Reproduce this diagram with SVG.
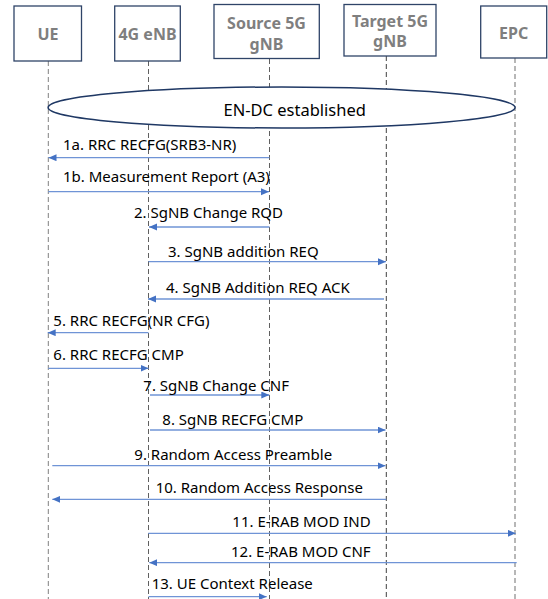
<svg xmlns="http://www.w3.org/2000/svg" width="548" height="599" viewBox="0 0 548 599">
<style>
.box{fill:#fff;stroke:#2f4468;stroke-width:1.3}
.bt{font-family:"Noto Sans","Liberation Sans",sans-serif;font-weight:bold;font-size:16px;fill:#7f7f7f;text-anchor:middle}
.life{fill:none;stroke-dasharray:5,3}
.msg{stroke:#6f94d6;stroke-width:1.3;fill:none;marker-end:url(#ah)}
.lbl{font-family:"Noto Sans","Liberation Sans",sans-serif;font-size:15px;fill:#000}
</style>
<defs>
<marker id="ah" markerUnits="userSpaceOnUse" markerWidth="9" markerHeight="8" refX="8" refY="3.5" orient="auto">
<path d="M0,0 L8,3.5 L0,7 z" fill="#4472c4"/>
</marker>
</defs>
<rect width="548" height="599" fill="#fff"/>
<g id="lifelines">
<line class="life" x1="48.3" y1="61" x2="48.3" y2="599" stroke="#808080" stroke-width="1"/>
<line class="life" x1="148.5" y1="61" x2="148.5" y2="599" stroke="#606060" stroke-width="1"/>
<line class="life" x1="269.5" y1="59" x2="269.5" y2="599" stroke="#606060" stroke-width="1"/>
<line class="life" x1="386.3" y1="56" x2="386.3" y2="599" stroke="#404040" stroke-width="1"/>
<line class="life" x1="515" y1="58" x2="515" y2="599" stroke="#a0a0a0" stroke-width="1.5"/>
</g>
<g id="ue"><rect class="box" x="14" y="6" width="67.5" height="55"/><text class="bt" x="48" y="40">UE</text></g>
<g id="enb"><rect class="box" x="114.7" y="6" width="65.6" height="55"/><text class="bt" x="147.5" y="40">4G eNB</text></g>
<g id="sgnb"><rect class="box" x="214" y="4.5" width="105.3" height="54"/><text class="bt" x="266.5" y="29">Source 5G</text><text class="bt" x="266.5" y="50">gNB</text></g>
<g id="tgnb"><rect class="box" x="344" y="4.5" width="92" height="51.5"/><text class="bt" x="390" y="27">Target 5G</text><text class="bt" x="390" y="47">gNB</text></g>
<g id="epc"><rect class="box" x="480.7" y="6" width="66" height="52"/><text class="bt" x="513.7" y="38.5">EPC</text></g>
<g id="endc"><ellipse cx="281.6" cy="107.5" rx="233.5" ry="20.5" fill="#fff" stroke="#1f3864" stroke-width="1.5"/><text class="lbl" x="223.5" y="115.5" style="font-size:16.5px">EN-DC established</text></g>
<g id="connectors">
<line class="msg" x1="269.5" y1="157.7" x2="48.5" y2="157.7"/>
<text class="lbl" x="63" y="150">1a. RRC RECFG(SRB3-NR)</text>
<line class="msg" x1="48.3" y1="191.7" x2="269" y2="191.7"/>
<text class="lbl" x="63" y="182">1b. Measurement Report (A3)</text>
<line class="msg" x1="269.5" y1="227" x2="149" y2="227"/>
<text class="lbl" x="134" y="218">2. SgNB Change RQD</text>
<line class="msg" x1="148.5" y1="261.7" x2="386" y2="261.7"/>
<text class="lbl" x="168" y="256.7">3. SgNB addition REQ</text>
<line class="msg" x1="384" y1="299" x2="148" y2="299"/>
<text class="lbl" x="166" y="293">4. SgNB Addition REQ ACK</text>
<line class="msg" x1="148.5" y1="332.7" x2="47.7" y2="332.7"/>
<text class="lbl" x="53.3" y="326">5. RRC RECFG(NR CFG)</text>
<line class="msg" x1="48.3" y1="368.3" x2="148.5" y2="368.3"/>
<text class="lbl" x="53.3" y="360">6. RRC RECFG CMP</text>
<line class="msg" x1="150" y1="395" x2="269.3" y2="395"/>
<text class="lbl" x="143.3" y="390.7">7. SgNB Change CNF</text>
<line class="msg" x1="150" y1="430" x2="385.5" y2="430"/>
<text class="lbl" x="162.3" y="425">8. SgNB RECFG CMP</text>
<line class="msg" x1="52.3" y1="465.7" x2="385.5" y2="465.7"/>
<text class="lbl" x="134.3" y="460">9. Random Access Preamble</text>
<line class="msg" x1="386.3" y1="499.3" x2="52.3" y2="499.3"/>
<text class="lbl" x="155.7" y="493">10. Random Access Response</text>
<line class="msg" x1="148.3" y1="533.3" x2="515.7" y2="533.3"/>
<text class="lbl" x="232.3" y="526.7">11. E-RAB MOD IND</text>
<line class="msg" x1="516.7" y1="562.7" x2="149.3" y2="562.7"/>
<text class="lbl" x="231" y="557.3">12. E-RAB MOD CNF</text>
<line class="msg" x1="148.5" y1="596.7" x2="266.7" y2="596.7"/>
<text class="lbl" x="151.7" y="589.3">13. UE Context Release</text>
</g>
</svg>
